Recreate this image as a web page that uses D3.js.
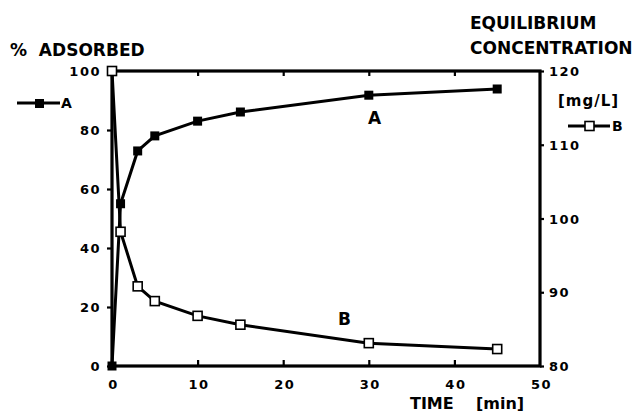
<!DOCTYPE html>
<html>
<head>
<meta charset="utf-8">
<script src="https://cdn.jsdelivr.net/npm/d3@7"></script>
<style>
  body { margin: 0; background: #fff; }
  text { font-family: "DejaVu Sans", "Liberation Sans", sans-serif; font-weight: bold; fill: #000; }
</style>
</head>
<body>
<div id="chart"></div>
<script>
// data
var time = [0, 1, 3, 5, 10, 15, 30, 45];
var adsorbed = [0, 55, 72.9, 78, 83, 86.1, 91.8, 93.9];           // series A, % adsorbed (left axis)
var concentration = [120, 98.2, 90.8, 88.8, 86.8, 85.6, 83.1, 82.3]; // series B, mg/L (right axis)
var xTicks = [0, 10, 20, 30, 40, 50];
var leftTicks = [0, 20, 40, 60, 80, 100];
var rightTicks = [80, 90, 100, 110, 120];

var width = 637, height = 412;
// plot box (note: "top" is taken by window.top, so use other names)
var plotL = 112, plotR = 540, plotT = 71, plotB = 366;

var svg = d3.select('#chart').append('svg')
    .attr('width', width)
    .attr('height', height);

var x = d3.scaleLinear().domain([0, 50]).range([plotL, plotR]);
var yL = d3.scaleLinear().domain([0, 100]).range([plotB, plotT]);
var yR = d3.scaleLinear().domain([80, 120]).range([plotB, plotT]);

//axes
function styleAxis(g) {
    g.select('.domain').remove();
    g.selectAll('.tick line').attr('stroke', '#000').attr('stroke-width', 2.2);
    g.selectAll('.tick text')
        .style('font-size', '13px')
        .style('letter-spacing', '1.5px');
}

svg.append('g')
    .attr('transform', `translate(${plotL},0)`)
    .call(d3.axisLeft(yL).tickValues(leftTicks).tickSize(5).tickPadding(6))
    .call(styleAxis)
    .selectAll('.tick text').attr('dy', '0.35em');

svg.append('g')
    .attr('transform', `translate(${plotR},0)`)
    .call(d3.axisRight(yR).tickValues(rightTicks).tickSize(4).tickPadding(5))
    .call(styleAxis)
    .selectAll('.tick text').attr('dy', '0.35em');

svg.append('g')
    .attr('transform', `translate(0,${plotB})`)
    .call(d3.axisBottom(x).tickValues(xTicks).tickSize(0).tickPadding(14))
    .call(styleAxis)
    .selectAll('.tick text').attr('dx', '1px');

// inner ticks on top and bottom frame
svg.append('g')
    .attr('transform', `translate(0,${plotB})`)
    .call(d3.axisTop(x).tickValues(xTicks.slice(1, -1)).tickSize(6).tickFormat(''))
    .call(styleAxis);
svg.append('g')
    .attr('transform', `translate(0,${plotT})`)
    .call(d3.axisBottom(x).tickValues(xTicks.slice(1, -1)).tickSize(5).tickFormat(''))
    .call(styleAxis);

// frame
svg.append('rect')
    .attr('x', plotL).attr('y', plotT)
    .attr('width', plotR - plotL).attr('height', plotB - plotT)
    .attr('fill', 'none').attr('stroke', '#000').attr('stroke-width', 3.2);

// lines
var lineA = d3.line().x((d, i) => x(time[i])).y(d => yL(d));
var lineB = d3.line().x((d, i) => x(time[i])).y(d => yR(d));

svg.append('path').datum(adsorbed)
    .attr('d', lineA).attr('fill', 'none').attr('stroke', '#000').attr('stroke-width', 3);
svg.append('path').datum(concentration)
    .attr('d', lineB).attr('fill', 'none').attr('stroke', '#000').attr('stroke-width', 3);

var s = 9;
svg.selectAll('.markA').data(adsorbed).enter().append('rect')
    .attr('x', (d, i) => x(time[i]) - s / 2)
    .attr('y', d => yL(d) - s / 2)
    .attr('width', s).attr('height', s)
    .attr('fill', '#000');
svg.selectAll('.markB').data(concentration).enter().append('rect')
    .attr('x', (d, i) => x(time[i]) - s / 2)
    .attr('y', d => yR(d) - s / 2)
    .attr('width', s).attr('height', s)
    .attr('fill', '#fff').attr('stroke', '#000').attr('stroke-width', 1.6);

// titles
svg.append('text').attr('x', 10).attr('y', 56).style('font-size', '17px')
    .attr('xml:space', 'preserve').text('%  ADSORBED');
svg.append('text').attr('x', 470).attr('y', 29).style('font-size', '17px').text('EQUILIBRIUM');
svg.append('text').attr('x', 470).attr('y', 54).style('font-size', '17px').text('CONCENTRATION');
svg.append('text').attr('x', 558).attr('y', 106).style('font-size', '15px')
    .style('letter-spacing', '1px').text('[mg/L]');
svg.append('text').attr('x', 410).attr('y', 409).style('font-size', '16px')
    .attr('xml:space', 'preserve').text('TIME    [min]');

// curve labels
svg.append('text').attr('x', 368).attr('y', 124).style('font-size', '17px').text('A');
svg.append('text').attr('x', 338).attr('y', 325).style('font-size', '17px').text('B');

// legends
svg.append('line').attr('x1', 17).attr('x2', 60).attr('y1', 103).attr('y2', 103)
    .attr('stroke', '#000').attr('stroke-width', 3);
svg.append('rect').attr('x', 35).attr('y', 99).attr('width', 9).attr('height', 9).attr('fill', '#000');
svg.append('text').attr('x', 61).attr('y', 108).style('font-size', '14px').text('A');

svg.append('line').attr('x1', 568).attr('x2', 610).attr('y1', 126).attr('y2', 126)
    .attr('stroke', '#000').attr('stroke-width', 3);
svg.append('rect').attr('x', 585).attr('y', 121.5).attr('width', 9).attr('height', 9)
    .attr('fill', '#fff').attr('stroke', '#000').attr('stroke-width', 1.6);
svg.append('text').attr('x', 612).attr('y', 131).style('font-size', '14px').text('B');
</script>
</body>
</html>
